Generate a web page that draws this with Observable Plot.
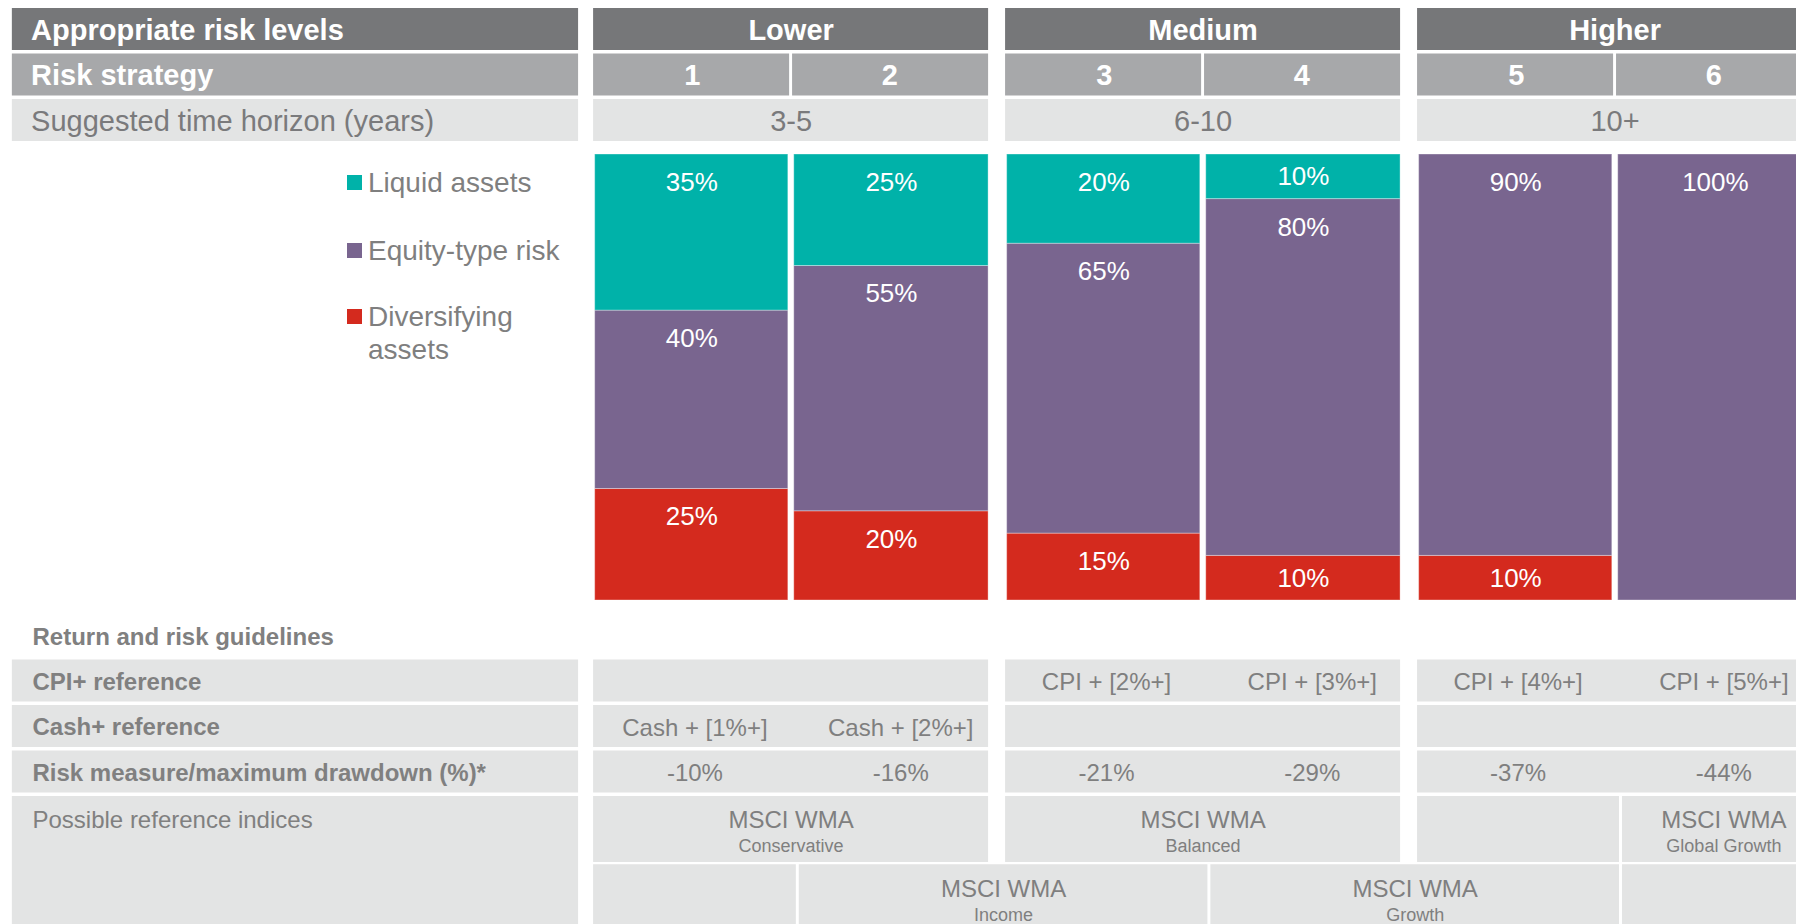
<!DOCTYPE html>
<html>
<head>
<meta charset="utf-8">
<script src="https://cdn.jsdelivr.net/npm/d3@7"></script>
<script src="https://cdn.jsdelivr.net/npm/@observablehq/plot@0.6"></script>
<style>
  html, body { margin: 0; padding: 0; background: #fff; }
  body { width: 1796px; height: 924px; overflow: hidden; position: relative; font-family: "Liberation Sans", Arial, sans-serif; }
  #chart svg { display: block; }
  .legend-item { position: absolute; left: 347px; width: 230px; font-size: 28px; line-height: 33px; color: #7f7f7f; }
  .legend-item .sw { position: absolute; left: 0; top: 9px; width: 15px; height: 15px; }
  .legend-item .lb { position: absolute; left: 21px; top: 0; width: 205px; }
</style>
</head>
<body>
<div id="chart"></div>
<div id="legend"></div>
<script>
// ---------------- data ----------------
const rowLabels = ["Appropriate risk levels", "Risk strategy", "Suggested time horizon (years)"];
const levels = ["Lower", "Medium", "Higher"];
const strategies = ["1", "2", "3", "4", "5", "6"];
const horizons = ["3-5", "6-10", "10+"];

const series = ["Liquid assets", "Equity-type risk", "Diversifying assets"];
const seriesColors = ["#00b2a9", "#79658f", "#d42a1e"];
const liquid       = [35, 25, 20, 10, 0, 0];
const equity       = [40, 55, 65, 80, 90, 100];
const diversifying = [25, 20, 15, 10, 10, 0];

const guideTitle = "Return and risk guidelines";
const guideLabels = ["CPI+ reference", "Cash+ reference", "Risk measure/maximum drawdown (%)*"];
const indicesLabel = "Possible reference indices";
const cpiRef   = [null, null, "CPI + [2%+]", "CPI + [3%+]", "CPI + [4%+]", "CPI + [5%+]"];
const cashRef  = ["Cash + [1%+]", "Cash + [2%+]", null, null, null, null];
const drawdown = ["-10%", "-16%", "-21%", "-29%", "-37%", "-44%"];
const indexName = "MSCI WMA";
// first tier of reference indices: per risk level (Higher split by strategy 5 / 6)
const indexTier1 = ["Conservative", "Balanced", null, "Global Growth"];
// second tier: spans strategies 2-3 and 4-5
const indexTier2 = [null, "Income", "Growth", null];

// ---------------- layout helpers (units: one strategy column) ----------------
const W = 1796, U = 197.5;
const xDomain = [0, W / U];
const PITCH = 45.5, ROWH = 42 / 45.5;
const LABEL_X1 = 0.06, LABEL_X2 = 2.927, LABEL_TX = 0.155, TABLE_TX = 0.162;
const groupStart = g => 3.003 + g * 2.086;
const RIGHT = 9.3;
const groupEnd = g => (g === 2 ? RIGHT : groupStart(g) + 2);
const colStart = i => groupStart(Math.floor(i / 2)) + (i % 2);
const TABLE_X0 = 2.995, TABLE_COL = 1.042;
const tableBound = i => TABLE_X0 + i * TABLE_COL;
const tableCenter = i => TABLE_X0 + (i + 0.5) * TABLE_COL;
const DIV = 0.0075;
const font = "'Liberation Sans', Arial, sans-serif";

const rowFill = ["#767779", "#a7a8aa", "#e3e4e4"];
const cellFill = "#e3e4e4";
const grayText = "#7a7a7c";

const xScale = {domain: xDomain, range: [0, W], axis: null};

// ---------------- header ----------------
const headCells = [], headLabels = [], headVals = [];
rowLabels.forEach((t, r) => {
  headCells.push({x1: LABEL_X1, x2: LABEL_X2, r, fill: rowFill[r]});
  headLabels.push({x: LABEL_TX, r, text: t, bold: r < 2, fill: r < 2 ? "#fff" : grayText});
});
levels.forEach((t, g) => {
  headCells.push({x1: groupStart(g), x2: groupEnd(g), r: 0, fill: rowFill[0]});
  headVals.push({x: groupStart(g) + 1, r: 0, text: t, bold: true, fill: "#fff"});
});
strategies.forEach((t, i) => {
  const a = colStart(i), second = i % 2 === 1;
  headCells.push({x1: a + (second ? DIV : 0), x2: second && i === 5 ? RIGHT : a + 1 - (second ? 0 : DIV), r: 1, fill: rowFill[1]});
  headVals.push({x: a + 0.5, r: 1, text: t, bold: true, fill: "#fff"});
});
horizons.forEach((t, g) => {
  headCells.push({x1: groupStart(g), x2: groupEnd(g), r: 2, fill: rowFill[2]});
  headVals.push({x: groupStart(g) + 1, r: 2, text: t, bold: false, fill: grayText});
});

const header = Plot.plot({
  width: W, height: 150, margin: 0,
  style: {fontFamily: font, background: "#fff"},
  x: xScale,
  y: {domain: [-8 / PITCH, 142 / PITCH], range: [0, 150], axis: null},
  color: {type: "identity"},
  marks: [
    Plot.rect(headCells, {x1: "x1", x2: "x2", y1: "r", y2: d => d.r + ROWH, fill: "fill"}),
    Plot.text(headLabels.filter(d => d.bold), {x: "x", y: d => d.r + ROWH / 2 + 0.02, text: "text", fill: "fill", textAnchor: "start", lineAnchor: "middle", fontSize: 29, fontWeight: "bold"}),
    Plot.text(headLabels.filter(d => !d.bold), {x: "x", y: d => d.r + ROWH / 2 + 0.02, text: "text", fill: "fill", textAnchor: "start", lineAnchor: "middle", fontSize: 29}),
    Plot.text(headVals.filter(d => d.bold), {x: "x", y: d => d.r + ROWH / 2 + 0.02, text: "text", fill: "fill", textAnchor: "middle", lineAnchor: "middle", fontSize: 29, fontWeight: "bold"}),
    Plot.text(headVals.filter(d => !d.bold), {x: "x", y: d => d.r + ROWH / 2 + 0.02, text: "text", fill: "fill", textAnchor: "middle", lineAnchor: "middle", fontSize: 29})
  ]
});

// ---------------- stacked bars ----------------
const segs = [];
strategies.forEach((s, i) => {
  let cum = 0;
  [[diversifying[i], seriesColors[2]], [equity[i], seriesColors[1]], [liquid[i], seriesColors[0]]].forEach(([v, c]) => {
    if (v > 0) {
      const a = colStart(i), second = i % 2 === 1;
      segs.push({
        x1: a + (second ? 0.016 : 0.008),
        x2: a + 1 - (second ? 0 : 0.014),
        y1: cum, y2: cum + v, v, fill: c
      });
      cum += v;
    }
  });
});

const bars = Plot.plot({
  width: W, height: 464, margin: 0,
  style: {fontFamily: font, background: "transparent"},
  x: xScale,
  y: {domain: [0, 100], range: [450, 4], axis: null},
  color: {type: "identity"},
  marks: [
    Plot.rect(segs, {x1: "x1", x2: "x2", y1: "y1", y2: "y2", fill: "fill", stroke: "#ffffff", strokeOpacity: 0.35, strokeWidth: 1}),
    Plot.text(segs, {
      x: d => (d.x1 + d.x2) / 2,
      y: d => Math.max(d.y2 - 6.3, (d.y1 + d.y2) / 2),
      text: d => d.v + "%",
      fill: "#fff", fontSize: 26, textAnchor: "middle", lineAnchor: "middle"
    })
  ]
});

// ---------------- guidelines table ----------------
const tCells = [], tLabels = [], tVals = [], tNames = [], tSubs = [];
guideLabels.forEach((t, k) => {
  const r = k + 1;
  tCells.push({x1: LABEL_X1, x2: LABEL_X2, y1: r, y2: r + ROWH});
  tLabels.push({x: TABLE_TX, y: r + 0.48, text: t, bold: true});
  levels.forEach((l, g) => tCells.push({x1: groupStart(g), x2: groupEnd(g), y1: r, y2: r + ROWH}));
});
tLabels.push({x: TABLE_TX, y: 0.5, text: guideTitle, bold: true});
tCells.push({x1: LABEL_X1, x2: LABEL_X2, y1: 4, y2: 7.3});
tLabels.push({x: TABLE_TX, y: 4.53, text: indicesLabel, bold: false});
[cpiRef, cashRef, drawdown].forEach((arr, k) => arr.forEach((t, i) => {
  if (t) tVals.push({x: tableCenter(i), y: k + 1 + 0.5, text: t});
}));
// tier 1 cells
const tier1Spans = [
  [groupStart(0), groupEnd(0)],
  [groupStart(1), groupEnd(1)],
  [groupStart(2), tableBound(5) - DIV],
  [tableBound(5) + DIV, RIGHT]
];
const T1 = 4, T1H = 1.45, T2 = 5.5, T2H = 1.8;
tier1Spans.forEach(([a, b], k) => {
  tCells.push({x1: a, x2: b, y1: T1, y2: T1 + T1H});
  if (indexTier1[k]) {
    const cx = k === 3 ? tableCenter(5) : (a + b) / 2;
    tNames.push({x: cx, y: T1 + 0.53, text: indexName});
    tSubs.push({x: cx, y: T1 + 1.1, text: indexTier1[k]});
  }
});
const tier2Spans = [
  [groupStart(0), tableBound(1) - DIV],
  [tableBound(1) + DIV, tableBound(3) - DIV],
  [tableBound(3) + DIV, tableBound(5) - DIV],
  [tableBound(5) + DIV, RIGHT]
];
tier2Spans.forEach(([a, b], k) => {
  tCells.push({x1: a, x2: b, y1: T2, y2: T2 + T2H});
  if (indexTier2[k]) {
    tNames.push({x: (a + b) / 2, y: T2 + 0.53, text: indexName});
    tSubs.push({x: (a + b) / 2, y: T2 + 1.1, text: indexTier2[k]});
  }
});

const table = Plot.plot({
  width: W, height: 310, margin: 0,
  style: {fontFamily: font, background: "#fff"},
  x: xScale,
  y: {domain: [0, 310 / PITCH], range: [0, 310], axis: null},
  marks: [
    Plot.rect(tCells, {x1: "x1", x2: "x2", y1: "y1", y2: "y2", fill: cellFill}),
    Plot.text(tLabels.filter(d => d.bold), {x: "x", y: "y", text: "text", fill: "#808080", textAnchor: "start", lineAnchor: "middle", fontSize: 24, fontWeight: "bold"}),
    Plot.text(tLabels.filter(d => !d.bold), {x: "x", y: "y", text: "text", fill: "#808080", textAnchor: "start", lineAnchor: "middle", fontSize: 24}),
    Plot.text(tVals, {x: "x", y: "y", text: "text", fill: "#7f7f7f", textAnchor: "middle", lineAnchor: "middle", fontSize: 24}),
    Plot.text(tNames, {x: "x", y: "y", text: "text", fill: "#7f7f7f", textAnchor: "middle", lineAnchor: "middle", fontSize: 24}),
    Plot.text(tSubs, {x: "x", y: "y", text: "text", fill: "#7f7f7f", textAnchor: "middle", lineAnchor: "middle", fontSize: 18})
  ]
});

const chart = document.getElementById("chart");
chart.append(header, bars, table);

// ---------------- legend (HTML, to the left of the bars) ----------------
const legend = document.getElementById("legend");
const legendTop = [165.5, 233.5, 299.5];
series.forEach((s, k) => {
  const item = document.createElement("div");
  item.className = "legend-item";
  item.style.top = legendTop[k] + "px";
  const sw = document.createElement("span");
  sw.className = "sw";
  sw.style.background = seriesColors[k];
  const lb = document.createElement("span");
  lb.className = "lb";
  lb.textContent = s;
  item.append(sw, lb);
  legend.append(item);
});
</script>
</body>
</html>
